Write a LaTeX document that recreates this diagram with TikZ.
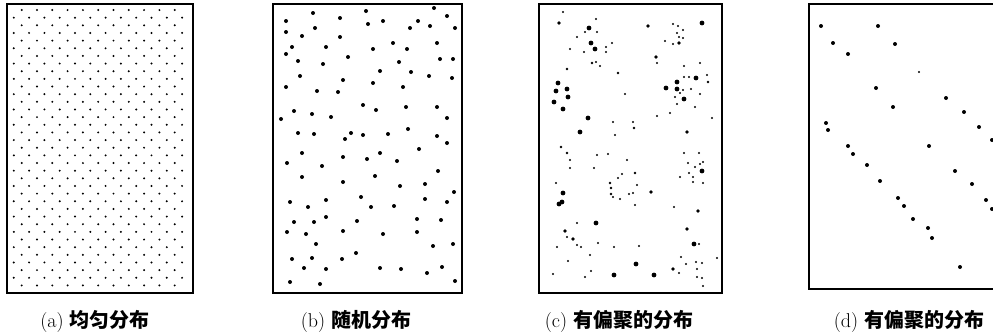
\documentclass[tikz,border=0pt]{standalone}
\usepackage{fontspec}
\newfontfamily\cjk{Noto Sans CJK SC}
\usepackage{tikz}
\usetikzlibrary{positioning}

\begin{document}
\begin{tikzpicture}
    [   panel/.style=
        {   draw
        ,   line width = 2.8pt
        }
    ,   caption/.style=
        {   inner sep = 0pt
        ,   anchor = center
        ,   font = \fontsize{20}{22}\selectfont
        }
    ,   x = 1pt
    ,   y = -1pt
    ]
    \useasboundingbox (0,0) rectangle (993,335);
    \clip (0,0) rectangle (993,335);

    % (a) regular staggered grid
    \foreach \r in {0,...,36}
    {   \pgfmathsetmacro\yy{10+\r*7.65}
        \ifodd\r
            \foreach \k in {0,...,11} \fill (13.8+\k*15.3,\yy) circle[radius=1.1pt];
        \else
            \foreach \k in {0,...,10} \fill (21.7+\k*15.3,\yy) circle[radius=1.1pt];
        \fi
    }
    \draw[panel] (7,4) rectangle (193,293);

    % (b) random
    \foreach \x/\y in
    {   313/13,286/21,340/18,366/11,368/24,383/21,315/28,286/32,302/36,340/37
    ,   393/43,407/49,292/47,326/47,373/49,410/28,418/21,430/26,434/8,447/16
    ,   286/54,298/61,323/64,348/57,399/62,437/43,440/59,300/76,343/80,380/71
    ,   411/72,429/76,373/83,403/87,286/87,317/91,338/92,363/105,376/110,294/111
    ,   312/114,331/117,281/119,406/107,437/107,447/118,298/133,314/134,345/139,351/133
    ,   363/135,388/134,408/129,437/136,447/143,302/153,287/163,322/166,343/157,367/159
    ,   380/153,397/161,419/149,302/177,375/176,438/171,343/182,400/186,425/184,290/202
    ,   308/207,326/200,361/197,371/207,394/206,425/199,447/202,294/222,314/222,326/217
    ,   357/221,417/219,441/220,287/232,306/234,343/231,383/234,417/232,316/244,356/253
    ,   433/246,292/259,312/258,342/259,380/268,401/269,304/268,326/269,290/282,320/284
    ,   427/273,442/267,455/28,453/59,452/78,454/192,453/244,455/281
    }
        \fill (\x,\y) circle[radius=2pt];
    \draw[panel] (273,4) rectangle (462,293);

    % (c) clustered
    \foreach \x/\y/\s in
    {   563/12/1.2,559/23/1.8,596/19/1.2,589/28/2.4,585/32/1.2,597/32/1.2,577/37/1.2,591/43/2.4
    ,   595/49/2.4,584/52/1.2,606/47/1.2,606/52/1.2,612/43/1.2,570/49/1.2,596/62/1.2,592/63/1.4
    ,   600/66/1.2,648/26/1.8,673/24/1.2,678/26/1.2,683/30/1.2,677/33/1.2,683/38/1.2,665/41/1.2
    ,   673/44/1.2,679/43/1.8,679/37/1.2,702/23/2.4,656/57/1.8,657/63/1.2,567/69/1.4
    ,   558/83/2.4,556/91/2.4,567/89/2.4,568/97/2.4,554/102/2.4,563/109/2.4,618/73/1.4,625/94/1.2
    ,   684/66/1.2,700/63/1.2,677/82/2.4,666/88/2.4,677/89/2.4,683/90/1.2,691/89/1.2,696/78/2.4
    ,   689/77/1.2,684/77/1.2,707/75/1.2,708/82/1.4,684/99/2.4,675/97/1.2,680/93/1.2,700/94/1.2
    ,   677/104/1.2,670/113/1.2,657/116/1.2,695/107/1.2,712/118/1.2,588/118/2.4,580/132/2.4,613/122/1.2
    ,   633/122/1.2,634/128/1.4,615/135/1.2,687/132/1.8,561/147/1.4,567/153/1.4,570/160/1.2,570/168/1.2
    ,   597/155/1.2,608/154/1.2,594/168/1.2,627/160/1.2,635/173/1.4,622/174/1.2,618/178/1.2,610/183/1.4
    ,   611/188/1.4,611/194/1.4,613/197/1.2,637/185/1.2,633/193/1.2,620/199/1.2,629/194/1.2,635/205/1.2
    ,   651/192/1.8,563/193/2.4,562/202/2.4,559/204/2.4,556/183/1.2,684/153/1.2,699/153/1.2,688/163/1.2
    ,   695/167/1.2,703/162/1.2,700/164/1.2,702/171/2.4,693/177/1.2,703/183/1.2,693/182/1.2,674/207/1.2
    ,   698/211/1.8,680/177/1.2,689/173/1.2,596/223/2.4,687/229/1.8,577/223/1.2,565/231/1.8,567/237/1.2
    ,   573/239/1.8,577/245/1.2,557/247/1.2,581/247/1.2,590/255/1.2,598/243/1.2,614/247/1.2,639/246/1.2
    ,   694/244/2.4,699/244/1.2,681/257/1.2,717/258/1.2,686/264/1.2,636/264/2.4,568/261/1.2,553/274/1.2
    ,   591/271/1.2,585/277/1.2,614/275/2.4,654/275/2.4,673/269/1.8,679/273/1.2,696/262/1.2,697/269/1.2
    ,   697/277/1.2,702/263/1.2,702/278/1.2,703/286/1.2
    }
        \fill (\x,\y) circle[radius=\s pt];
    \draw[panel] (539,4) rectangle (722,293);

    % (d) clustered along lines
    \foreach \x/\y in
    {   821/26,878/26,833/43,895/44,848/54,876/88,893/107,946/98
    ,   964/112,979/127,992/140,826/123,828/130,848/146,853/154,867/165
    ,   929/146,880/181,955/171,972/184,898/198,904/206,986/200,992/209
    ,   913/219,928/228,932/238,960/267
    }
        \fill (\x,\y) circle[radius=2pt];
    \fill (919,72) circle[radius=1.2pt];
    \draw[panel] (809,4) rectangle (1003,289);

    \node[caption] (capA) at (95,321) {(a) {\cjk\bfseries 均匀分布}};
    \node[caption] (capB) at (356,321) {(b) {\cjk\bfseries 随机分布}};
    \node[caption] (capC) at (619,321) {(c) {\cjk\bfseries 有偏聚的分布}};
    \node[caption] (capD) at (909,321) {(d) {\cjk\bfseries 有偏聚的分布}};
\end{tikzpicture}
\end{document}
